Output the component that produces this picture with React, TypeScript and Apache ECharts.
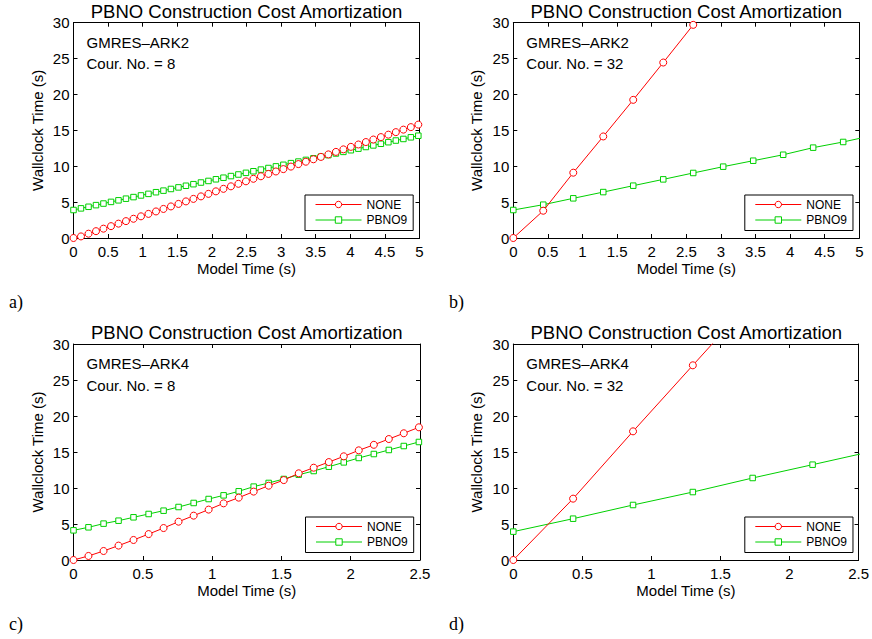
import React, { useEffect, useRef } from "react";
import * as echarts from "echarts";

const TITLE = "PBNO Construction Cost Amortization";
const X_NAME = "Model Time (s)";
const Y_NAME = "Wallclock Time (s)";
const NAME_NONE = "NONE";
const NAME_PBNO = "PBNO9";

// Panel a) GMRES-ARK2, Cour. No. = 8
const tA = [0, 0.108, 0.217, 0.325, 0.433, 0.542, 0.65, 0.758, 0.867, 0.975, 1.083, 1.192, 1.3, 1.408, 1.517, 1.625, 1.733, 1.842, 1.95, 2.058, 2.167, 2.275, 2.383, 2.492, 2.6, 2.708, 2.817, 2.925, 3.033, 3.142, 3.25, 3.358, 3.467, 3.575, 3.683, 3.792, 3.9, 4.008, 4.117, 4.225, 4.333, 4.442, 4.55, 4.658, 4.767, 4.875, 4.983];
const noneA = [0, 0.22, 0.6, 0.95, 1.3, 1.65, 2.0, 2.35, 2.68, 3.02, 3.36, 3.7, 4.05, 4.4, 4.75, 5.1, 5.45, 5.8, 6.15, 6.5, 6.85, 7.2, 7.55, 7.9, 8.25, 8.6, 8.93, 9.27, 9.6, 9.95, 10.3, 10.63, 10.97, 11.3, 11.65, 12.0, 12.35, 12.7, 13.03, 13.37, 13.72, 14.06, 14.4, 14.75, 15.1, 15.45, 15.8];
const pbnoA = [3.9, 4.13, 4.35, 4.58, 4.8, 5.03, 5.25, 5.48, 5.7, 5.93, 6.15, 6.38, 6.6, 6.83, 7.05, 7.28, 7.5, 7.73, 7.95, 8.18, 8.4, 8.63, 8.85, 9.08, 9.3, 9.53, 9.75, 9.98, 10.2, 10.43, 10.65, 10.88, 11.1, 11.33, 11.55, 11.78, 12.0, 12.23, 12.45, 12.68, 12.9, 13.13, 13.35, 13.58, 13.8, 14.03, 14.25];

// Panel b) GMRES-ARK2, Cour. No. = 32
const tB = [0, 0.433, 0.867, 1.3, 1.733, 2.167, 2.6, 3.033, 3.467, 3.9, 4.333, 4.767, 5.2];
const noneB = [0, 3.8, 9.1, 14.15, 19.25, 24.45, 29.7, 34.9];
const pbnoB = [3.9, 4.64, 5.53, 6.4, 7.29, 8.17, 9.06, 9.94, 10.77, 11.6, 12.59, 13.38, 14.3];

// Panel c) GMRES-ARK4, Cour. No. = 8
const tC = [0, 0.108, 0.217, 0.325, 0.433, 0.542, 0.65, 0.758, 0.867, 0.975, 1.083, 1.192, 1.3, 1.408, 1.517, 1.625, 1.733, 1.842, 1.95, 2.058, 2.167, 2.275, 2.383, 2.492];
const noneC = [0, 0.56, 1.25, 2.0, 2.78, 3.6, 4.44, 5.32, 6.16, 7.0, 7.87, 8.66, 9.5, 10.32, 11.1, 12.04, 12.82, 13.6, 14.4, 15.23, 16.0, 16.8, 17.6, 18.43];
const pbnoC = [4.12, 4.54, 5.05, 5.46, 5.93, 6.39, 6.85, 7.36, 7.92, 8.47, 8.98, 9.54, 10.19, 10.7, 11.25, 11.85, 12.36, 12.96, 13.56, 14.17, 14.72, 15.28, 15.83, 16.39];

// Panel d) GMRES-ARK4, Cour. No. = 32
const tD = [0, 0.433, 0.867, 1.3, 1.733, 2.167, 2.6];
const noneD = [0, 8.52, 17.87, 27.04, 36.2];
const pbnoD = [3.94, 5.74, 7.64, 9.44, 11.39, 13.24, 15.1];

const PANEL_LABELS = ["a)", "b)", "c)", "d)"];
const METHODS = ["GMRES\u2013ARK2", "GMRES\u2013ARK2", "GMRES\u2013ARK4", "GMRES\u2013ARK4"];
const COURANT = ["Cour. No. = 8", "Cour. No. = 32", "Cour. No. = 8", "Cour. No. = 32"];
const X_MAX = [5, 5, 2.5, 2.5];
const TIMES = [tA, tB, tC, tD];
const NONE_VALUES = [noneA, noneB, noneC, noneD];
const PBNO_VALUES = [pbnoA, pbnoB, pbnoC, pbnoD];

// layout (pixels)
const GRIDS = [
  { left: 73.5, top: 22.7, width: 346, height: 215.3 },
  { left: 513.3, top: 22.7, width: 346, height: 215.3 },
  { left: 73.5, top: 344, width: 346.5, height: 216 },
  { left: 513.3, top: 344, width: 346, height: 216 },
];

const FONT = "Liberation Sans, Arial, Helvetica, sans-serif";
const RED = "#ff0000";
const GREEN = "#00d000";

export default function App() {
  const ref = useRef<HTMLDivElement>(null);

  useEffect(() => {
    if (!ref.current) return;
    const chart = echarts.init(ref.current, undefined, { renderer: "svg" });

    const xAxes: any[] = [];
    const yAxes: any[] = [];
    const series: any[] = [];
    const legends: any[] = [];
    const graphics: any[] = [];

    GRIDS.forEach((g, i) => {
      const lineColor = "#000";
      const common = {
        gridIndex: i,
        type: "value",
        min: 0,
        axisLine: { show: true, onZero: false, lineStyle: { color: lineColor, width: 1 } },
        axisTick: { show: true, inside: true, length: 4, lineStyle: { color: lineColor, width: 1 } },
        splitLine: { show: false },
      };
      xAxes.push({
        ...common,
        position: "bottom",
        max: X_MAX[i],
        interval: 0.5,
        name: X_NAME,
        nameLocation: "middle",
        nameGap: 23,
        nameTextStyle: { fontFamily: FONT, fontSize: 15, color: "#000" },
        axisLabel: { show: true, margin: 6, fontFamily: FONT, fontSize: 15, color: "#000", showMinLabel: true, showMaxLabel: true },
      });
      xAxes.push({
        ...common,
        position: "top",
        max: X_MAX[i],
        interval: 0.5,
        axisLabel: { show: false },
      });
      yAxes.push({
        ...common,
        position: "left",
        max: 30,
        interval: 5,
        name: Y_NAME,
        nameLocation: "middle",
        nameRotate: 90,
        nameGap: 29,
        nameTextStyle: { fontFamily: FONT, fontSize: 15, color: "#000" },
        axisLabel: { show: true, margin: 4, fontFamily: FONT, fontSize: 15, color: "#000", showMinLabel: true, showMaxLabel: true },
      });
      yAxes.push({
        ...common,
        position: "right",
        max: 30,
        interval: 5,
        axisLabel: { show: false },
      });

      const t = TIMES[i];
      series.push({
        type: "line",
        name: NAME_NONE,
        xAxisIndex: 2 * i,
        yAxisIndex: 2 * i,
        data: NONE_VALUES[i].map((v, k) => [t[k], v]),
        symbol: "circle",
        symbolSize: 7,
        showAllSymbol: true,
        clip: true,
        lineStyle: { color: RED, width: 1 },
        itemStyle: { color: "#fff", borderColor: RED, borderWidth: 1 },
        emphasis: { disabled: true },
        z: 3,
      });
      series.push({
        type: "line",
        name: NAME_PBNO,
        xAxisIndex: 2 * i,
        yAxisIndex: 2 * i,
        data: PBNO_VALUES[i].map((v, k) => [t[k], v]),
        symbol: "rect",
        symbolSize: 5.5,
        showAllSymbol: true,
        clip: true,
        lineStyle: { color: GREEN, width: 1 },
        itemStyle: { color: "#fff", borderColor: GREEN, borderWidth: 1 },
        emphasis: { disabled: true },
        z: 2,
      });

      legends.push({
        orient: "vertical",
        left: g.left + g.width - 114.5,
        top: g.top + g.height - 43,
        padding: [3.5, 6, 4.5, 10],
        itemGap: 3.5,
        itemWidth: 46,
        itemHeight: 8,
        backgroundColor: "#fff",
        borderColor: "#000",
        borderWidth: 1,
        selectedMode: false,
        textStyle: { fontFamily: FONT, fontSize: 12, color: "#000" },
        data: [
          { name: NAME_NONE, itemStyle: { color: "#fff", borderColor: RED, borderWidth: 1 }, lineStyle: { color: RED, width: 1 } },
          { name: NAME_PBNO, itemStyle: { color: "#fff", borderColor: GREEN, borderWidth: 1 }, lineStyle: { color: GREEN, width: 1 } },
        ],
        z: 10,
      });

      graphics.push({
        type: "text",
        x: g.left + g.width / 2,
        y: g.top - 11.5,
        style: { text: TITLE, font: `18.5px ${FONT}`, fill: "#000", align: "center", verticalAlign: "middle" },
      });
      graphics.push({
        type: "text",
        x: g.left + 13,
        y: g.top + 19.5,
        style: { text: METHODS[i], font: `15px ${FONT}`, fill: "#000", align: "left", verticalAlign: "middle" },
      });
      graphics.push({
        type: "text",
        x: g.left + 13,
        y: g.top + 41.2,
        style: { text: COURANT[i], font: `15px ${FONT}`, fill: "#000", align: "left", verticalAlign: "middle" },
      });
      graphics.push({
        type: "text",
        x: i % 2 === 0 ? 9 : 449,
        y: g.top + g.height + 64,
        style: { text: PANEL_LABELS[i], font: `18px "Liberation Serif", "DejaVu Serif", serif`, fill: "#000", align: "left", verticalAlign: "middle" },
      });
    });

    chart.setOption({
      animation: false,
      backgroundColor: "#fff",
      grid: GRIDS.map((g) => ({ left: g.left, top: g.top, width: g.width, height: g.height, containLabel: false })),
      xAxis: xAxes,
      yAxis: yAxes,
      series,
      legend: legends,
      graphic: graphics,
    });

    return () => chart.dispose();
  }, []);

  return <div ref={ref} style={{ width: 872, height: 639, position: "absolute", left: 0, top: 0 }} />;
}
